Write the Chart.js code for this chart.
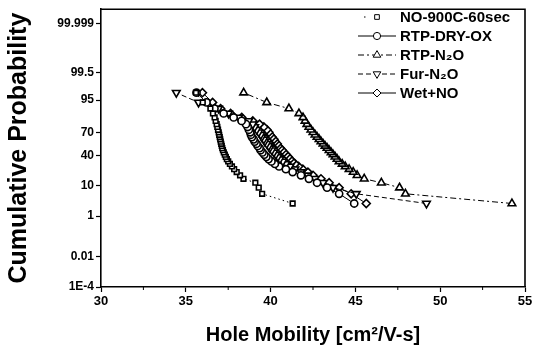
<!DOCTYPE html>
<html><head><meta charset="utf-8">
<script src="https://cdn.jsdelivr.net/npm/chart.js@4.4.0/dist/chart.umd.min.js"></script>
<style>html,body{margin:0;padding:0;background:#fff;}#wrap{width:552px;height:358px;}</style>
</head><body><div id="wrap"><canvas id="c" width="552" height="358"></canvas></div>
<script>
// ---- data ----
const seriesNames = ['NO-900C-60sec', 'RTP-DRY-OX', 'RTP-N\u2082O', 'Fur-N\u2082O', 'Wet+NO'];
// cumulative probability (%) of each ranked point
const probLevels = [2.9, 5.9, 8.8, 11.8, 14.7, 17.6, 20.6, 23.5, 26.5, 29.4, 32.4, 35.3, 38.2, 41.2, 44.1, 47.1, 50.0,
  52.9, 55.9, 58.8, 61.8, 64.7, 67.6, 70.6, 73.5, 76.5, 79.4, 82.4, 85.3, 88.2, 91.2, 94.1, 97.1];
// hole mobility (cm2/V-s) of each series at those levels
const no900cMobility = [41.3, 39.5, 39.3, 39.1, 38.4, 38.2, 38.0, 37.85, 37.72, 37.6, 37.5, 37.42, 37.36, 37.3, 37.24, 37.19, 37.15,
  37.12, 37.09, 37.06, 37.03, 37.0, 36.97, 36.94, 36.9, 36.86, 36.82, 36.76, 36.7, 36.6, 36.45, 36.0, 35.6];
const dryOxMobility = [44.93, 44.04, 43.33, 42.74, 42.26, 41.79, 41.3, 40.9, 40.5, 40.25, 40.05, 39.88, 39.75, 39.63, 39.52, 39.41, 39.35,
  39.24, 39.17, 39.06, 39.0, 38.9, 38.84, 38.8, 38.72, 38.65, 38.55, 38.29, 37.82, 37.23, 36.69, 36.22, 35.63];
const rtpN2OMobility = [54.23, 47.95, 47.6, 46.53, 45.52, 45.1, 44.87, 44.63, 44.4, 44.22, 44.04, 43.92, 43.8, 43.68, 43.57, 43.45, 43.33,
  43.21, 43.09, 42.97, 42.86, 42.74, 42.62, 42.5, 42.38, 42.26, 42.14, 42.03, 41.91, 41.67, 41.08, 39.77, 38.41];
const furN2OMobility = [49.19, 45.05, 43.68, 43.09, 42.62, 42.2, 41.79, 41.43, 41.14, 40.9, 40.72, 40.55, 40.43, 40.31, 40.19, 40.07, 39.95,
  39.89, 39.77, 39.66, 39.6, 39.48, 39.42, 39.3, 39.18, 39.06, 38.95, 38.71, 38.12, 37.52, 36.93, 35.75, 34.44];
const wetNOMobility = [45.64, 44.75, 44.04, 43.45, 42.97, 42.5, 42.2, 41.9, 41.65, 41.45, 41.28, 41.15, 41.04, 40.92, 40.8, 40.69, 40.57,
  40.45, 40.39, 40.27, 40.2, 40.09, 39.97, 39.9, 39.78, 39.6, 39.35, 38.95, 38.3, 37.64, 37.05, 36.58, 35.98];
const yTickValues = [1e-4, 0.01, 1, 10, 40, 70, 95, 99.5, 99.999];
const yTickLabels = ['1E-4', '0.01', '1', '10', '40', '70', '95', '99.5', '99.999'];
const yRange = [1e-4, 99.9999];
const xRange = [30, 55];
const xMinorTicks = [32.5, 37.5, 42.5, 47.5, 52.5];

// ---- normal probability scale transform (inverse normal CDF) ----
function probit(pct) {
  const p = pct / 100;
  const a = [-3.969683028665376e+01, 2.209460984245205e+02, -2.759285104469687e+02, 1.383577518672690e+02, -3.066479806614716e+01, 2.506628277459239e+00];
  const b = [-5.447609879822406e+01, 1.615858368580409e+02, -1.556989798598866e+02, 6.680131188771972e+01, -1.328068155288572e+01];
  const c = [-7.784894002430293e-03, -3.223964580411365e-01, -2.400758277161838e+00, -2.549732539343734e+00, 4.374664141464968e+00, 2.938163982698783e+00];
  const d = [7.784695709041462e-03, 3.224671290700398e-01, 2.445134137142996e+00, 3.754408661907416e+00];
  const pl = 0.02425, ph = 1 - pl;
  let q, r;
  if (p < pl) { q = Math.sqrt(-2 * Math.log(p)); return (((((c[0]*q+c[1])*q+c[2])*q+c[3])*q+c[4])*q+c[5]) / ((((d[0]*q+d[1])*q+d[2])*q+d[3])*q+1); }
  if (p <= ph) { q = p - 0.5; r = q*q; return (((((a[0]*r+a[1])*r+a[2])*r+a[3])*r+a[4])*r+a[5])*q / (((((b[0]*r+b[1])*r+b[2])*r+b[3])*r+b[4])*r+1); }
  q = Math.sqrt(-2 * Math.log(1 - p)); return -(((((c[0]*q+c[1])*q+c[2])*q+c[3])*q+c[4])*q+c[5]) / ((((d[0]*q+d[1])*q+d[2])*q+d[3])*q+1);
}

const seriesX = [no900cMobility, dryOxMobility, rtpN2OMobility, furN2OMobility, wetNOMobility];
const styles = [
  { pointStyle: 'rect', rotation: 0, dash: [1.5, 3], radius: 3.3 },
  { pointStyle: 'circle', rotation: 0, dash: [], radius: 3.6 },
  { pointStyle: 'triangle', rotation: 0, dash: [6, 3, 2, 3], radius: 4.4 },
  { pointStyle: 'triangle', rotation: 180, dash: [5, 3], radius: 4.4 },
  { pointStyle: 'rectRot', rotation: 0, dash: [], radius: 4.0 }
];
const FONT = '"Liberation Sans", Arial, sans-serif';

const datasets = seriesNames.map((name, k) => ({
  label: name,
  data: seriesX[k].map((x, i) => ({ x: x, y: probit(probLevels[i]) })),
  showLine: true,
  borderColor: '#000',
  borderWidth: 1,
  borderDash: styles[k].dash,
  backgroundColor: '#fff',
  pointStyle: styles[k].pointStyle,
  pointRotation: styles[k].rotation,
  pointRadius: styles[k].radius,
  pointBorderWidth: 1.6,
  pointBorderColor: '#000',
  pointBackgroundColor: '#fff'
}));

const framePlugin = {
  id: 'frame',
  afterDraw(chart) {
    const ctx = chart.ctx, a = chart.chartArea;
    ctx.save();
    ctx.strokeStyle = '#000';
    ctx.lineWidth = 1.6;
    ctx.beginPath();
    ctx.moveTo(a.left, a.top); ctx.lineTo(a.right, a.top); ctx.lineTo(a.right, a.bottom);
    ctx.stroke();
    // minor x ticks
    const xs = chart.scales.x;
    ctx.lineWidth = 1;
    xMinorTicks.forEach(v => {
      const px = xs.getPixelForValue(v);
      ctx.beginPath(); ctx.moveTo(px, a.bottom); ctx.lineTo(px, a.bottom + 3); ctx.stroke();
    });
    // legend (line sample + marker + name)
    const rowsY = [17, 36, 55, 74, 93];
    seriesNames.forEach((name, k) => {
      const y = rowsY[k];
      ctx.strokeStyle = '#000';
      ctx.lineWidth = 1;
      ctx.setLineDash(styles[k].dash);
      ctx.beginPath();
      if (k === 0) { ctx.moveTo(364, y); ctx.lineTo(366, y); }
      else { ctx.moveTo(358, y); ctx.lineTo(396, y); }
      ctx.stroke();
      ctx.setLineDash([]);
      ctx.fillStyle = '#fff';
      Chart.helpers.drawPoint(ctx, { pointStyle: styles[k].pointStyle, rotation: styles[k].rotation, radius: styles[k].radius, borderWidth: 1.6 }, 377, y);
      ctx.fillStyle = '#000';
      ctx.font = 'bold 15px ' + FONT;
      ctx.textBaseline = 'middle';
      ctx.textAlign = 'left';
      ctx.fillText(name, 400, y + 1);
    });
    ctx.restore();
  }
};

new Chart(document.getElementById('c'), {
  type: 'scatter',
  data: { datasets: datasets },
  options: {
    responsive: false,
    animation: false,
    devicePixelRatio: 1,
    layout: { padding: { top: 7, right: 27, left: 0, bottom: 0 } },
    plugins: { legend: { display: false }, tooltip: { enabled: false } },
    scales: {
      x: {
        type: 'linear', position: 'bottom', min: xRange[0], max: xRange[1],
        ticks: { stepSize: 5, color: '#000', font: { family: FONT, size: 13, weight: 'bold' }, padding: 2 },
        grid: { drawOnChartArea: false, drawTicks: true, tickLength: 5, color: '#000', tickWidth: 1.2 },
        border: { display: true, color: '#000', width: 1.6 },
        title: { display: true, text: 'Hole Mobility [cm\u00b2/V-s]', color: '#000', font: { family: FONT, size: 20, weight: 'bold' }, padding: { top: 0, bottom: 11 } },
        afterFit: s => { s.height = 71; }
      },
      y: {
        type: 'linear', position: 'left', min: probit(yRange[0]), max: probit(yRange[1]),
        afterBuildTicks: s => { s.ticks = yTickValues.map(v => ({ value: probit(v) })); },
        ticks: { autoSkip: false, color: '#000', font: { family: FONT, size: 12, weight: 'bold' }, padding: 2,
          callback: (v, i) => yTickLabels[i] },
        grid: { drawOnChartArea: false, drawTicks: true, tickLength: 5, color: '#000', tickWidth: 1.2 },
        border: { display: true, color: '#000', width: 1.6 },
        title: { display: true, text: 'Cumulative Probability', color: '#000', font: { family: FONT, size: 25, weight: 'bold' }, padding: { top: 4, bottom: 0 } },
        afterFit: s => { s.width = 101; }
      }
    }
  },
  plugins: [framePlugin]
});
</script></body></html>
